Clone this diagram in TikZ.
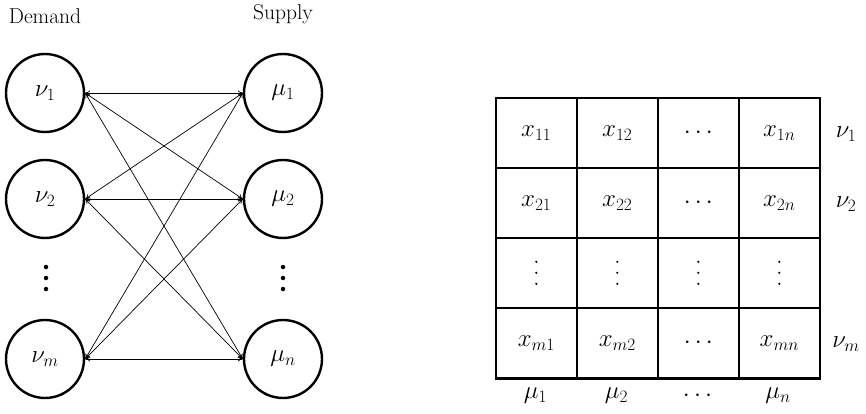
\documentclass[tikz,border=0pt]{standalone}
\usetikzlibrary{arrows.meta}
\begin{document}
\begin{tikzpicture}[x=1pt,y=-1pt,
  big/.style={font=\fontsize{21.5}{25}\selectfont},
  mbig/.style={font=\fontsize{23}{27}\selectfont},
  circ/.style={circle,draw,line width=2.4pt,minimum size=78pt,inner sep=0pt,mbig},
  link/.style={line width=0.7pt,{To[length=5pt,width=5pt]}-{To[length=5pt,width=5pt]}},
  cell/.style={draw,line width=1.6pt,minimum width=81pt,minimum height=70pt,inner sep=0pt,anchor=north west,mbig},
  lab/.style={big,inner sep=0pt},
  mlab/.style={mbig,inner sep=0pt},
  dot/.style={circle,fill,inner sep=0pt,minimum size=4.5pt},
  sdot/.style={circle,fill,inner sep=0pt,minimum size=2.4pt}]
\useasboundingbox (0,0) rectangle (866,414);
% labels
\node[lab] (dem) at (45,16) {Demand};
\node[lab] (sup) at (283,14) {Supply};
% circles
\node[circ] (v1) at (45,93) {$\nu_1$};
\node[circ] (v2) at (45,199) {$\nu_2$};
\node[circ] (vm) at (45,359) {$\nu_m$};
\node[circ] (m1) at (283,93) {$\mu_1$};
\node[circ] (m2) at (283,199) {$\mu_2$};
\node[circ] (mn) at (283,359) {$\mu_n$};
% dots
\foreach \yy [count=\i] in {267,278,289}{
  \node[dot] (ld\i) at (46,\yy) {};
  \node[dot] (rd\i) at (283,\yy) {};
}
% links
\foreach \a in {v1,v2,vm}{
  \foreach \b in {m1,m2,mn}{
    \draw[link] (\a.east) -- (\b.west);
  }
}
% table
\node[cell] (c11) at (495,97) {$x_{11}$};
\node[cell] (c12) at (576,97) {$x_{12}$};
\node[cell] (c13) at (657,97) {$\cdots$};
\node[cell] (c14) at (738,97) {$x_{1n}$};
\node[cell] (c21) at (495,167) {$x_{21}$};
\node[cell] (c22) at (576,167) {$x_{22}$};
\node[cell] (c23) at (657,167) {$\cdots$};
\node[cell] (c24) at (738,167) {$x_{2n}$};
\node[cell] (c31) at (495,237) {};
\node[cell] (c32) at (576,237) {};
\node[cell] (c33) at (657,237) {};
\node[cell] (c34) at (738,237) {};
\foreach \c in {c31,c32,c33,c34}{
  \foreach \dy [count=\k] in {-11,0,11}{
    \node[sdot] (\c d\k) at ([yshift=-\dy pt]\c.center) {};
  }
}
\node[cell] (c41) at (495,307) {$x_{m1}$};
\node[cell] (c42) at (576,307) {$x_{m2}$};
\node[cell] (c43) at (657,307) {$\cdots$};
\node[cell] (c44) at (738,307) {$x_{mn}$};
\draw[line width=2.6pt] (c41.south west) -- (c44.south east);
% row labels
\node[mlab] (r1) at (846,134) {$\nu_1$};
\node[mlab] (r2) at (846,204) {$\nu_2$};
\node[mlab] (r4) at (846,344) {$\nu_m$};
% column labels
\node[mlab] (k1) at (535.5,396) {$\mu_1$};
\node[mlab] (k2) at (616.5,396) {$\mu_2$};
\node[mlab] (k3) at (697.5,396) {$\cdots$};
\node[mlab] (k4) at (778,396) {$\mu_n$};
\end{tikzpicture}
\end{document}
